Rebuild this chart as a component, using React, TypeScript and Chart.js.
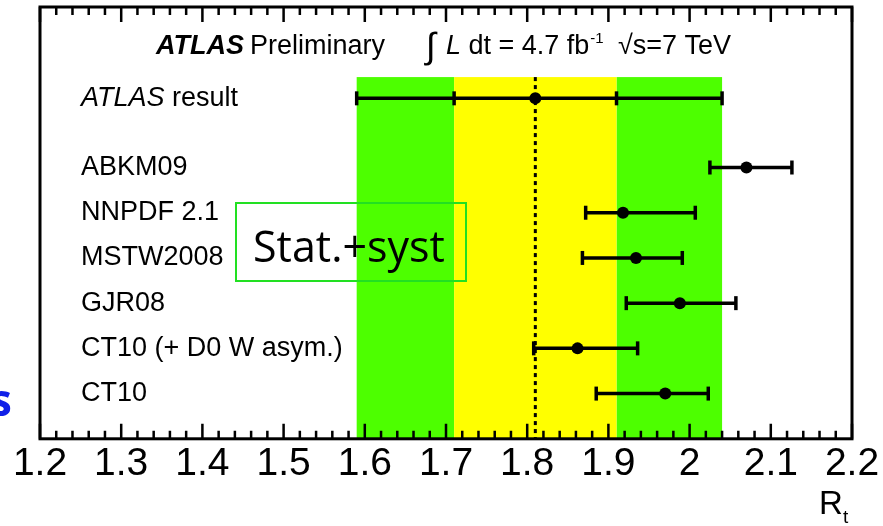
import React, { useEffect, useRef } from "react";
import { Chart, registerables } from "chart.js";

Chart.register(...registerables);

// ---- data ----
const CATEGORIES = [
  "ATLAS result",
  "ABKM09",
  "NNPDF 2.1",
  "MSTW2008",
  "GJR08",
  "CT10 (+ D0 W asym.)",
  "CT10",
];
const ROW_POS = [6.53, 5, 4, 3, 2, 1, 0];
const CENTRAL = [1.81, 2.07, 1.918, 1.934, 1.988, 1.862, 1.97];
const LOW = [1.59, 2.025, 1.872, 1.868, 1.922, 1.808, 1.885];
const HIGH = [2.04, 2.126, 2.007, 1.991, 2.057, 1.936, 2.023];
const STAT_BAND = [1.71, 1.91];
const TOTAL_BAND = [1.59, 2.04];
const BAND_TOP = 7;
const X_TICK_LABELS = ["1.2", "1.3", "1.4", "1.5", "1.6", "1.7", "1.8", "1.9", "2", "2.1", "2.2"];
const X_MIN = 1.2;
const X_MAX = 2.2;
const MINOR_STEP = 0.02;

const GREEN = "#4dff00";
const YELLOW = "#ffff00";
const FONT = "'Liberation Sans', Arial, Helvetica, sans-serif";

const atlasPlugin = {
  id: "atlasPlugin",
  beforeDatasetsDraw(chart: any) {
    const { ctx, chartArea, scales } = chart;
    const x = scales.x;
    const y = scales.y;
    const yTop = y.getPixelForValue(BAND_TOP);
    const yBot = chartArea.bottom;
    ctx.save();
    // bands
    ctx.fillStyle = GREEN;
    ctx.fillRect(x.getPixelForValue(TOTAL_BAND[0]), yTop, x.getPixelForValue(STAT_BAND[0]) - x.getPixelForValue(TOTAL_BAND[0]), yBot - yTop);
    ctx.fillRect(x.getPixelForValue(STAT_BAND[1]), yTop, x.getPixelForValue(TOTAL_BAND[1]) - x.getPixelForValue(STAT_BAND[1]), yBot - yTop);
    ctx.fillStyle = YELLOW;
    ctx.fillRect(x.getPixelForValue(STAT_BAND[0]), yTop, x.getPixelForValue(STAT_BAND[1]) - x.getPixelForValue(STAT_BAND[0]), yBot - yTop);
    // dashed central line
    ctx.strokeStyle = "#000";
    ctx.lineWidth = 3;
    ctx.setLineDash([4, 4]);
    const cx = x.getPixelForValue(CENTRAL[0]);
    ctx.beginPath();
    ctx.moveTo(cx, yTop);
    ctx.lineTo(cx, yBot);
    ctx.stroke();
    ctx.setLineDash([]);
    // error bars
    ctx.lineWidth = 3.5;
    const cap = 7;
    const drawCap = (px: number, py: number) => {
      ctx.beginPath();
      ctx.moveTo(px, py - cap);
      ctx.lineTo(px, py + cap);
      ctx.stroke();
    };
    for (let i = 0; i < CATEGORIES.length; i++) {
      const py = y.getPixelForValue(ROW_POS[i]);
      const x1 = x.getPixelForValue(LOW[i]);
      const x2 = x.getPixelForValue(HIGH[i]);
      ctx.beginPath();
      ctx.moveTo(x1, py);
      ctx.lineTo(x2, py);
      ctx.stroke();
      drawCap(x1, py);
      drawCap(x2, py);
      if (i === 0) {
        drawCap(x.getPixelForValue(STAT_BAND[0]), py);
        drawCap(x.getPixelForValue(STAT_BAND[1]), py);
      }
    }
    ctx.restore();
  },
  afterDatasetsDraw(chart: any) {
    const { ctx, chartArea, scales } = chart;
    const x = scales.x;
    const y = scales.y;
    const { left, right, top, bottom } = chartArea;
    ctx.save();
    // frame
    ctx.strokeStyle = "#000";
    ctx.lineWidth = 3;
    ctx.strokeRect(left, top, right - left, bottom - top);
    // ticks
    ctx.lineWidth = 2.5;
    const nMinor = Math.round((X_MAX - X_MIN) / MINOR_STEP);
    for (let k = 0; k <= nMinor; k++) {
      const v = X_MIN + k * MINOR_STEP;
      const px = x.getPixelForValue(v);
      const major = k % 5 === 0;
      const len = major ? 15 : 8;
      ctx.beginPath();
      ctx.moveTo(px, bottom);
      ctx.lineTo(px, bottom - len);
      ctx.moveTo(px, top);
      ctx.lineTo(px, top + len);
      ctx.stroke();
    }
    // header
    ctx.fillStyle = "#000";
    ctx.textBaseline = "alphabetic";
    const hb = top + 47;
    ctx.font = `italic bold 27px ${FONT}`;
    ctx.fillText("ATLAS", 156, hb);
    ctx.font = `27px ${FONT}`;
    ctx.fillText("Preliminary", 250, hb);
    ctx.font = `36px ${FONT}`;
    ctx.fillText("\u222B", 426, hb + 4);
    ctx.font = `italic 27px ${FONT}`;
    ctx.fillText("L", 446, hb);
    ctx.font = `27px ${FONT}`;
    const s1 = " dt = 4.7 fb";
    ctx.fillText(s1, 461, hb);
    const w1 = ctx.measureText(s1).width;
    ctx.font = `15px ${FONT}`;
    ctx.fillText("-1", 461 + w1 + 1, hb - 11);
    ctx.font = `27px ${FONT}`;
    ctx.fillText("\u221As=7 TeV", 618, hb);
    // row labels
    ctx.textBaseline = "middle";
    for (let i = 0; i < CATEGORIES.length; i++) {
      const py = y.getPixelForValue(ROW_POS[i]);
      const label = CATEGORIES[i];
      if (label.startsWith("ATLAS")) {
        ctx.font = `italic 27px ${FONT}`;
        ctx.fillText("ATLAS", 81, py);
        const w = ctx.measureText("ATLAS").width;
        ctx.font = `27px ${FONT}`;
        ctx.fillText(label.slice(5), 81 + w, py);
      } else {
        ctx.font = `27px ${FONT}`;
        ctx.fillText(label, 81, py);
      }
    }
    // Stat.+syst box
    ctx.strokeStyle = "#22e022";
    ctx.lineWidth = 2;
    ctx.strokeRect(236, 203, 230, 78);
    ctx.fillStyle = "#000";
    ctx.font = `43px 'Open Sans', 'Noto Sans', sans-serif`;
    ctx.textBaseline = "alphabetic";
    ctx.fillText("Stat.+syst", 253, 262);
    // axis title R_t
    ctx.font = `33px ${FONT}`;
    ctx.fillText("R", 819, 514);
    ctx.font = `19px ${FONT}`;
    ctx.fillText("t", 843, 523);
    // blue s
    ctx.fillStyle = "#1020e8";
    ctx.font = `bold 44px 'Open Sans', 'Noto Sans', sans-serif`;
    ctx.fillText("s", -10, 416);
    ctx.restore();
  },
};

export default function App() {
  const ref = useRef<HTMLCanvasElement | null>(null);
  useEffect(() => {
    if (!ref.current) return;
    const chart = new Chart(ref.current, {
      type: "scatter",
      data: {
        datasets: [
          {
            data: CENTRAL.map((v, i) => ({ x: v, y: ROW_POS[i] })),
            pointRadius: 6,
            pointBackgroundColor: "#000",
            pointBorderWidth: 0,
            showLine: false,
          },
        ],
      },
      options: {
        responsive: false,
        maintainAspectRatio: false,
        animation: false,
        layout: { padding: { left: 40, right: 31, top: 7, bottom: 44.4 } },
        plugins: { legend: { display: false }, tooltip: { enabled: false } },
        scales: {
          x: {
            type: "linear",
            min: X_MIN,
            max: X_MAX,
            grid: { display: false },
            border: { display: false },
            ticks: {
              stepSize: 0.1,
              autoSkip: false,
              maxRotation: 0,
              padding: -6,
              color: "#000",
              font: { family: FONT, size: 39 },
              callback: (_v: any, i: number) => X_TICK_LABELS[i],
            },
          },
          y: { type: "linear", min: -1, max: 8.55, display: false },
        },
      },
      plugins: [atlasPlugin],
    });
    return () => chart.destroy();
  }, []);
  return (
    <div style={{ position: "absolute", left: 0, top: 0, width: 883, height: 526, background: "#fff" }}>
      <canvas ref={ref} width={883} height={526} style={{ display: "block" }} />
    </div>
  );
}
